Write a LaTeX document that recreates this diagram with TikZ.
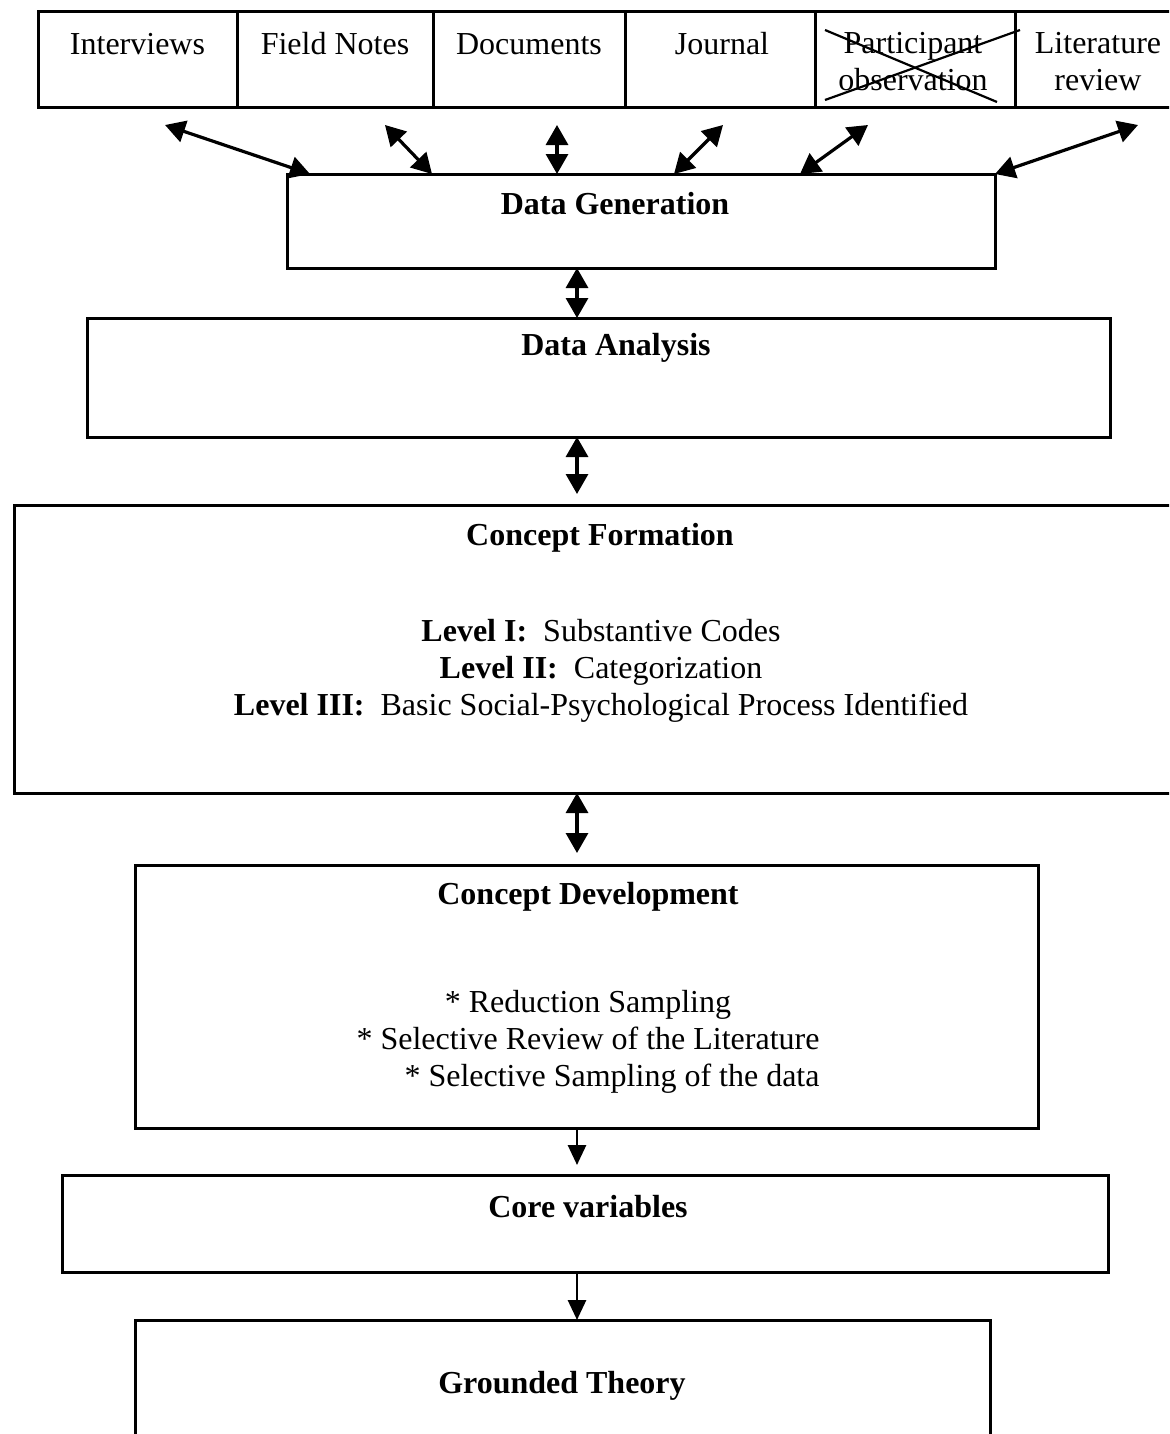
\documentclass[tikz,border=0pt]{standalone}
\usepackage{fontspec}
\setmainfont{Liberation Serif}
\usetikzlibrary{arrows.meta,positioning}

\begin{document}
\begin{tikzpicture}[x=0.5pt, y=-0.5pt,
    every node/.style={font=\fontsize{16}{18.5}\selectfont},
    box/.style={draw, line width=1.5pt, inner sep=0pt, outer sep=0pt},
    top/.style={box, minimum height=48pt},
    title/.style={font=\fontsize{16}{18.5}\selectfont\bfseries},
    dbl/.style={line width=1.6pt, {Triangle[length=10pt,width=11pt]}-{Triangle[length=10pt,width=11pt]}},
    sgl/.style={line width=1.4pt, -{Triangle[length=10pt,width=9pt]}}]
  \useasboundingbox (0,0) rectangle (1169,1434);
  \clip (0,0) rectangle (1169,1434);

  % sources
  \node[top, minimum width=99.5pt] (int) at (137.5,60) {};
  \node[top, minimum width=98pt] (fn) at (335,60) {};
  \node[top, minimum width=96pt] (doc) at (529,60) {};
  \node[top, minimum width=95pt] (jou) at (720,60) {};
  \node[top, minimum width=100pt] (par) at (915,60) {};
  \node[top, minimum width=83pt] (lit) at (1098,60) {};
  \node (t-int) at (137.5,44) {Interviews};
  \node (t-fn) at (335,44) {Field Notes};
  \node (t-doc) at (529,44) {Documents};
  \node (t-jou) at (722,44) {Journal};
  \node[align=center] (t-par) at (913,62) {Participant\\observation};
  \node[align=center] (t-lit) at (1098,62) {Literature\\review};
  \draw[line width=1.1pt] (825,30) -- (997,102);
  \draw[line width=1.1pt] (825,100) -- (1020,30);

  % main boxes
  \node[box, minimum width=354pt, minimum height=47pt] (dg) at (641,221) {};
  \node[title] (t-dg) at (615,204) {Data Generation};
  \node[box, minimum width=511.5pt, minimum height=59.5pt] (da) at (598.5,377.5) {};
  \node[title] (t-da) at (616,348) {Data Analysis};
  \node[box, minimum width=585.5pt, minimum height=144pt] (cf) at (599.5,649) {};
  \node[title] (t-cf) at (600,538) {Concept Formation};
  \node[align=center] (lv) at (601,671) {\textbf{Level I:}\ \ Substantive Codes\\
    \textbf{Level II:}\ \ Categorization\\
    \textbf{Level III:}\ \ Basic Social-Psychological Process Identified};
  \node[box, minimum width=451.5pt, minimum height=131.5pt] (cd) at (586.5,996.5) {};
  \node[title] (t-cd) at (588,897) {Concept Development};
  \node[align=center] (smp) at (588,1042) {* Reduction Sampling\\
    * Selective Review of the Literature\\
    \hspace*{24pt}* Selective Sampling of the data};
  \node[box, minimum width=523pt, minimum height=48.5pt] (cv) at (585,1223.5) {};
  \node[title] (t-cv) at (588,1207) {Core variables};
  \node[box, minimum width=427.5pt, minimum height=90pt] (gt) at (562.5,1410) {};
  \node[title] (t-gt) at (562,1386) {Grounded Theory};

  % links
  \foreach \a/\b [count=\i] in {165/310, 385/432, 557/557, 723/674, 868/800, 1138/995} {
    \coordinate (s\i) at (\a,125);
    \draw[dbl] (s\i) -- (dg.north -| \b,0);
  }
  \coordinate (axis) at (577,0);
  \draw[dbl] (dg.south -| axis) -- (da.north -| axis);
  \draw[dbl, shorten >=5.5pt] (da.south -| axis) -- (cf.north -| axis);
  \draw[dbl, shorten >=6pt] (cf.south -| axis) -- (cd.north -| axis);
  \draw[sgl, shorten >=5pt] (cd.south -| axis) -- (cv.north -| axis);
  \draw[sgl] (cv.south -| axis) -- (gt.north -| axis);
\end{tikzpicture}
\end{document}
